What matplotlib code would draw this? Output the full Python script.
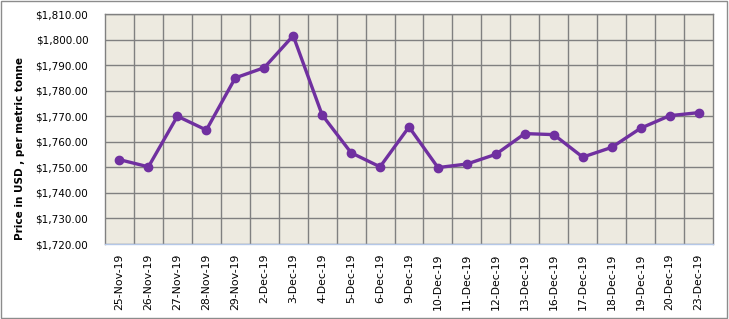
import matplotlib
matplotlib.use("Agg")
import matplotlib.pyplot as plt
from matplotlib.patches import Rectangle
from matplotlib.ticker import FuncFormatter, MultipleLocator

dates = ["25-Nov-19", "26-Nov-19", "27-Nov-19", "28-Nov-19", "29-Nov-19",
         "2-Dec-19", "3-Dec-19", "4-Dec-19", "5-Dec-19", "6-Dec-19",
         "9-Dec-19", "10-Dec-19", "11-Dec-19", "12-Dec-19", "13-Dec-19",
         "16-Dec-19", "17-Dec-19", "18-Dec-19", "19-Dec-19", "20-Dec-19",
         "23-Dec-19"]
prices = [1753.0, 1750.2, 1770.0, 1764.6, 1785.0,
          1789.0, 1801.5, 1770.5, 1755.7, 1750.2,
          1765.8, 1749.9, 1751.3, 1755.1, 1763.2,
          1762.8, 1754.0, 1757.8, 1765.3, 1770.2,
          1771.4]

fig = plt.figure(figsize=(7.29, 3.19), dpi=100)
ax = fig.add_axes([105/729, 75/319, 608/729, 230/319])
ax.set_facecolor("#EDEAE0")

x = list(range(len(dates)))
ax.plot(x, prices, color="#7030A0", linewidth=2.4, marker="o", markersize=6,
        zorder=3)

ax.set_xlim(-0.5, len(dates) - 0.5)
ax.set_ylim(1720, 1810)
ax.yaxis.set_major_locator(MultipleLocator(10))
ax.yaxis.set_major_formatter(FuncFormatter(lambda v, p: f"${v:,.2f}"))
ax.set_xticks(x)
ax.set_xticklabels(dates, rotation=90, fontsize=7.8)
ax.tick_params(axis="y", labelsize=7.5, length=0, pad=12)
ax.tick_params(axis="x", length=0, pad=7)

# vertical grid at category boundaries
for b in range(1, len(dates)):
    ax.axvline(b - 0.5, color="#808080", linewidth=1.0, zorder=1)
ax.yaxis.grid(True, color="#808080", linewidth=1.0, zorder=1)
ax.set_axisbelow(True)

for s in ["top", "right", "left"]:
    ax.spines[s].set_color("#808080")
    ax.spines[s].set_linewidth(1.0)
ax.spines["bottom"].set_color("#B4C7E7")
ax.spines["bottom"].set_linewidth(1.0)

fig.text(20/729, 1 - 148/319, "Price in USD , per metric tonne",
         rotation=90, fontsize=7.5, fontweight="bold", ha="center", va="center")

fig.patches.append(Rectangle((1/729, 1/319), 726/729, 317/319, transform=fig.transFigure,
                             fill=False, edgecolor="#8C8C8C", linewidth=1.0))

fig.savefig("out.png", dpi=100)
